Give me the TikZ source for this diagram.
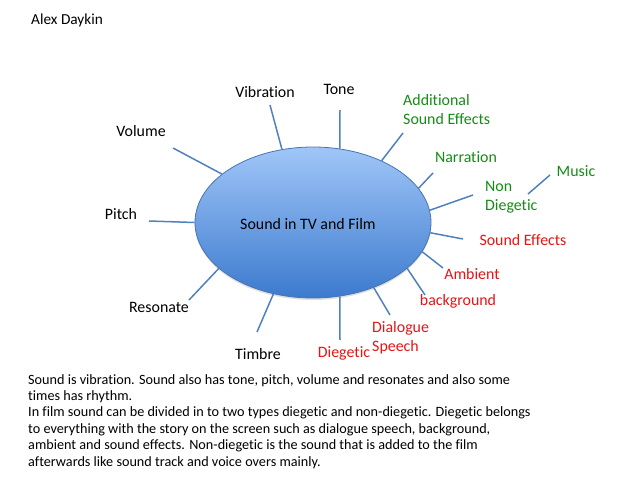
\documentclass[tikz,border=0pt]{standalone}
\usepackage{fontspec}
\setmainfont{Carlito}[Ligatures=NoCommon]
\usetikzlibrary{shapes.geometric,shadows}
\definecolor{wireblue}{RGB}{79,129,189}
\definecolor{rimblue}{RGB}{72,116,176}
\definecolor{topblue}{RGB}{160,198,248}
\definecolor{botblue}{RGB}{60,122,206}
\definecolor{nongreen}{RGB}{20,140,20}
\definecolor{diered}{RGB}{230,20,20}
\tikzset{e/.style = {ellipse, draw=rimblue, thick, top color=topblue, bottom color=botblue,
        minimum width=236pt, minimum height=151pt, inner sep=0pt,
        drop shadow={opacity=0.25, shadow xshift=0pt, shadow yshift=-2pt}},
    k/.style = {inner sep=0pt, font=\fontsize{15.9}{19}\selectfont, align=left},
    g/.style = {k, text=nongreen},
    r/.style = {k, text=diered},
    w/.style = {draw=wireblue, line width=1.5pt}}
\begin{document}
\begin{tikzpicture}[x=1pt, y=-1pt]
        \useasboundingbox (0,0) rectangle (638,479);
        \node[e] (s) at (313,222.5)
            {\fontsize{15.9}{19}\selectfont\raisebox{-7pt}[0pt][0pt]{\kern-5pt Sound in TV and Film\kern5pt}};

        \node[k, anchor=west, font=\fontsize{15.3}{17}\selectfont] (alex) at (31,20) {Alex Daykin};
        \node[k] (vibration) at (265,92) {Vibration};
        \node[k] (tone) at (339,89) {Tone};
        \node[k] (volume) at (141,131) {Volume};
        \node[k] (pitch) at (121,214) {Pitch};
        \node[k] (resonate) at (159,307) {Resonate};
        \node[k] (timbre) at (258,354) {Timbre};
        \node[g, anchor=west] (additional) at (403,110) {Additional\\Sound Effects};
        \node[g] (narration) at (466,157) {Narration};
        \node[g, anchor=west] (nondiegetic) at (485,197) {Non\\Diegetic};
        \node[g] (music) at (576,171) {Music};
        \node[r] (effects) at (523,240) {Sound Effects};
        \node[r] (ambient) at (472,274) {Ambient};
        \node[r] (background) at (458,301) {background};
        \node[r, anchor=west] (dialogue) at (372,338) {Dialogue\\Speech};
        \node[r] (diegetic) at (344,353) {Diegetic};

        \foreach \n/\x/\y in {vib/270/105, ton/340/110, vol/173/148, pit/149/221,
            res/189/300, tim/257/332, add/403/133, nar/433/173, non/473/195,
            sfx/463/239, amb/443/268, bgd/425/295, dia/390/315, die/340/340,
            mus1/528/194, mus2/550/175}
            \coordinate (\n) at (\x,\y);

        \foreach \a/\n in {113/vib, 70/ton, 152/vol, 180/pit, 206/res, 241/tim,
            42/add, 18/nar, 6/non, -5/sfx, -15/amb, -26/bgd, -47/dia, -70/die}
            \draw[w] (s.\a) -- (\n);
        \draw[w] (mus1) -- (mus2);

        \node[k, anchor=north west, font=\fontsize{14.2}{16.4}\selectfont] (para) at (28,374)
            {Sound is vibration. Sound also has tone, pitch, volume and resonates and also some\\
            times has rhythm.\\
            In film sound can be divided in to two types diegetic and non-diegetic. Diegetic belongs\\
            to everything with the story on the screen such as dialogue speech, background,\\
            ambient and sound effects. Non-diegetic is the sound that is added to the film\\
            afterwards like sound track and voice overs mainly.};
    \end{tikzpicture}
\end{document}
